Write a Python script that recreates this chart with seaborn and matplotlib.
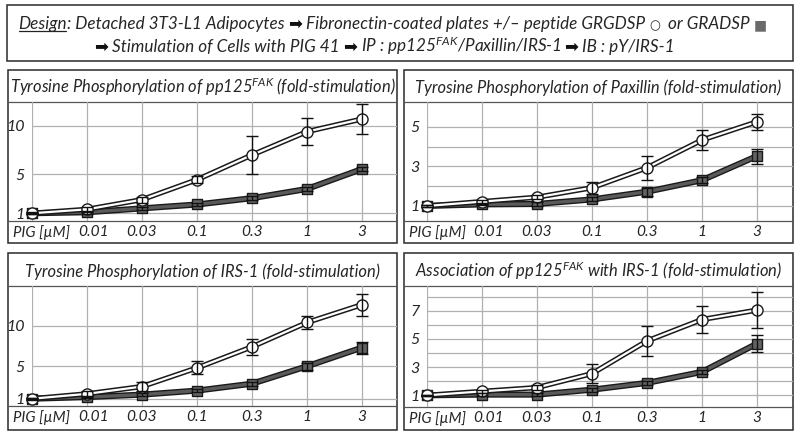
import matplotlib
matplotlib.use("Agg")
import matplotlib.pyplot as plt
import matplotlib.patheffects as pe
import matplotlib.transforms as mtransforms
from matplotlib.patches import Rectangle
import pandas as pd
import seaborn as sns

# PIG 41 concentrations (uM); first position is the unstimulated control
doses = ["", "0.01", "0.03", "0.1", "0.3", "1", "3"]

# fold-stimulation: GRGDSP (open circles), GRADSP (grey squares)
fak_rgd = [1.0, 1.4, 2.4, 4.45, 7.0, 9.4, 10.7]
fak_rgd_err = [0.1, 0.25, 0.3, 0.35, 1.95, 1.4, 1.5]
fak_rad = [1.0, 1.1, 1.5, 1.9, 2.55, 3.5, 5.55]
fak_rad_err = [0.05, 0.15, 0.15, 0.15, 0.2, 0.25, 0.25]

pax_rgd = [1.0, 1.22, 1.44, 1.92, 2.93, 4.33, 5.25]
pax_rgd_err = [0.05, 0.1, 0.1, 0.3, 0.6, 0.5, 0.4]
pax_rad = [1.0, 1.08, 1.1, 1.33, 1.72, 2.3, 3.52]
pax_rad_err = [0.05, 0.05, 0.08, 0.1, 0.2, 0.15, 0.38]

irs_rgd = [1.0, 1.6, 2.5, 4.8, 7.4, 10.4, 12.6]
irs_rgd_err = [0.1, 0.35, 0.6, 0.8, 0.95, 0.85, 1.35]
irs_rad = [1.0, 1.2, 1.5, 2.0, 2.85, 5.0, 7.3]
irs_rad_err = [0.05, 0.15, 0.2, 0.2, 0.25, 0.4, 0.75]

assoc_rgd = [1.0, 1.28, 1.55, 2.54, 4.86, 6.38, 7.05]
assoc_rgd_err = [0.05, 0.1, 0.15, 0.65, 1.08, 0.98, 1.3]
assoc_rad = [1.0, 1.05, 1.05, 1.4, 1.88, 2.66, 4.67]
assoc_rad_err = [0.05, 0.1, 0.1, 0.15, 0.15, 0.15, 0.6]

titles = [
    r"Tyrosine Phosphorylation of pp125$^{\rm FAK}$ (fold-stimulation)",
    "Tyrosine Phosphorylation of Paxillin (fold-stimulation)",
    "Tyrosine Phosphorylation of IRS-1 (fold-stimulation)",
    r"Association of pp125$^{\rm FAK}$ with IRS-1 (fold-stimulation)",
]
yticks_major = [[1, 5, 10], [1, 3, 5], [1, 5, 10], [1, 3, 5, 7]]
yticks_minor = [[], [2, 4], [], [2, 4, 6, 8]]

series = [
    (fak_rgd, fak_rgd_err, fak_rad, fak_rad_err),
    (pax_rgd, pax_rgd_err, pax_rad, pax_rad_err),
    (irs_rgd, irs_rgd_err, irs_rad, irs_rad_err),
    (assoc_rgd, assoc_rgd_err, assoc_rad, assoc_rad_err),
]

sns.set_theme(style="white")
plt.rcParams["font.family"] = ["Lato", "DejaVu Sans"]
plt.rcParams["font.style"] = "italic"
plt.rcParams["mathtext.fontset"] = "custom"
plt.rcParams["mathtext.rm"] = "Lato:italic"
plt.rcParams["mathtext.it"] = "Lato:italic"

# layout in pixels of the 800x436 canvas
W, H = 800, 436
boxes = [(8, 70, 397, 243), (404, 70, 793, 243), (8, 253, 397, 430), (404, 253, 793, 430)]
seps = [102, 102, 286, 286]
axis_y = [221, 221, 406, 407]
ctrl_x = [32, 427, 32, 427]
step = 55.0
ylims = [(0.2, 12.45), (0.24, 6.25), (0.1, 14.9), (0.17, 8.76)]
EDGE = "#2a2a2a"
GRID = "#b0b0b0"

fig = plt.figure(figsize=(8, 4.36), dpi=100)
bg = fig.add_axes([0, 0, 1, 1], zorder=0)
bg.set_xlim(0, W)
bg.set_ylim(H, 0)
bg.axis("off")


def fig_rect(x0, y0, x1, y1):
    return [x0 / W, 1 - y1 / H, (x1 - x0) / W, (y1 - y0) / H]


def chain(first, y, pieces):
    # place text pieces one after another on a common baseline
    prev = first
    for s, kw in pieces:
        prev = bg.annotate(s, xy=(1, y), xycoords=(prev, "data"),
                           va="baseline", ha="left", **kw)
    return prev


# header box
bg.add_patch(Rectangle((7, 5), 786, 56, fill=False, ec=EDGE, lw=1.1))

hfs = 12.3
txt = dict(fontsize=hfs)
arrow = dict(family="DejaVu Sans", fontsize=12, style="normal", color="#111111")
design = bg.text(18, 29, "Design", va="baseline", ha="left", fontsize=hfs)
chain(design, 29, [
    (": Detached 3T3-L1 Adipocytes ", txt),
    ("\u27a1", arrow),
    (" Fibronectin-coated plates +/\u2013 peptide GRGDSP ", txt),
    ("\u25cb", dict(family="DejaVu Sans", fontsize=9, style="normal")),
    ("  or GRADSP ", txt),
    ("\u25a0", dict(family="DejaVu Sans", fontsize=10, style="normal", color="#6a6a6a")),
])

a0 = bg.text(94, 52, "\u27a1", va="baseline", ha="left", **arrow)
chain(a0, 52, [
    (" Stimulation of Cells with PIG 41 ", txt),
    ("\u27a1", arrow),
    (r" IP : pp125$^{\rm FAK}$/Paxillin/IRS-1 ", txt),
    ("\u27a1", arrow),
    (" IB : pY/IRS-1", txt),
])

for i, (x0, y0, x1, y1) in enumerate(boxes):
    bg.add_patch(Rectangle((x0, y0), x1 - x0, y1 - y0, fill=False, ec=EDGE, lw=1.1))
    bg.plot([x0, x1], [seps[i], seps[i]], color="#555555", lw=0.9)
    bg.plot([x0, x1], [axis_y[i], axis_y[i]], color="#555555", lw=0.9)
    bg.text((x0 + x1) / 2, seps[i] - 9, titles[i], ha="center", va="baseline", fontsize=11.9)
    bg.text(x0 + 5, axis_y[i] + 4, "PIG [\u00b5M]", ha="left", va="top", fontsize=10.8)

    ax = fig.add_axes(fig_rect(ctrl_x[i], seps[i], x1, axis_y[i]), zorder=1)
    ax.patch.set_alpha(0)
    rgd, rgd_err, rad, rad_err = series[i]
    df = pd.DataFrame({"dose": range(len(doses)), "rgd": rgd, "rad": rad})

    # GRADSP: thick grey line with dark outline, grey squares
    sns.lineplot(data=df, x="dose", y="rad", ax=ax, color="#5a5a5a", lw=2.4, clip_on=False,
                 zorder=3, path_effects=[pe.Stroke(linewidth=4.4, foreground="#1a1a1a"), pe.Normal()])
    sns.scatterplot(data=df, x="dose", y="rad", ax=ax, marker="s", s=56, clip_on=False,
                    color="#626262", edgecolor="#1a1a1a", linewidth=1.0, zorder=4)
    # GRGDSP: white double line, open circles
    sns.lineplot(data=df, x="dose", y="rgd", ax=ax, color="white", lw=1.6, clip_on=False,
                 zorder=5, path_effects=[pe.Stroke(linewidth=3.8, foreground="#1a1a1a"), pe.Normal()])
    sns.scatterplot(data=df, x="dose", y="rgd", ax=ax, marker="o", s=64, clip_on=False,
                    color="white", edgecolor="#1a1a1a", linewidth=1.0, zorder=6)
    for vals, errs in ((rad, rad_err), (rgd, rgd_err)):
        eb = ax.errorbar(df["dose"], vals, yerr=errs, fmt="none", ecolor="#111111",
                         elinewidth=1.0, capsize=4.5, capthick=1.0, zorder=7)
        for art in eb.lines[1] + eb.lines[2]:
            art.set_clip_on(False)

    ax.set_xlim(0, (x1 - ctrl_x[i]) / step)
    ax.set_ylim(*ylims[i])
    ax.set_xticks(range(len(doses)))
    ax.set_xticklabels(doses)
    ax.set_yticks(yticks_major[i])
    ax.set_yticks(yticks_minor[i], minor=True)
    ax.grid(which="both", color=GRID, lw=0.9)
    ax.set_axisbelow(True)
    ax.tick_params(which="both", length=0)
    ax.tick_params(axis="x", pad=3, labelsize=11.2)
    ax.tick_params(axis="y", pad=5.5, labelsize=11.5)
    ax.set_xlabel("")
    ax.set_ylabel("")
    for sp in ax.spines.values():
        sp.set_visible(False)
    # nudge "0.01" right of the PIG label, as in the original
    lab = ax.get_xticklabels()[1]
    lab.set_transform(lab.get_transform() + mtransforms.ScaledTranslation(5 / 72, 0, fig.dpi_scale_trans))

# underline "Design"
fig.canvas.draw()
bb = design.get_window_extent()
inv = bg.transData.inverted()
(ux0, _), (ux1, _) = inv.transform([(bb.x0, bb.y0), (bb.x1, bb.y0)])
bg.plot([ux0 + 1, ux1 - 1], [31.5, 31.5], color="#222222", lw=0.9)

fig.savefig("out.png", dpi=100, facecolor="white")
